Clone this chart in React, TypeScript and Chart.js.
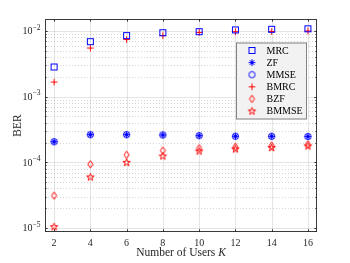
import React, { useEffect, useRef } from 'react';
import { Chart, registerables } from 'chart.js';

Chart.register(...registerables);

// ---------- data ----------
const users = [2, 4, 6, 8, 10, 12, 14, 16];
const mrc = [2.83e-3, 6.87e-3, 8.5e-3, 9.4e-3, 9.76e-3, 1.036e-2, 1.06e-2, 1.08e-2];
const zf = [2.06e-4, 2.64e-4, 2.64e-4, 2.61e-4, 2.55e-4, 2.5e-4, 2.49e-4, 2.47e-4];
const mmse = [2.06e-4, 2.64e-4, 2.64e-4, 2.61e-4, 2.55e-4, 2.5e-4, 2.49e-4, 2.47e-4];
const bmrc = [1.67e-3, 5.5e-3, 7.4e-3, 8.5e-3, 9.5e-3, 9.75e-3, 9.8e-3, 1.0e-2];
const bzf = [3.11e-5, 9.35e-5, 1.3e-4, 1.51e-4, 1.64e-4, 1.72e-4, 1.8e-4, 1.88e-4];
const bmmse = [1.05e-5, 6.0e-5, 1.0e-4, 1.25e-4, 1.49e-4, 1.6e-4, 1.68e-4, 1.78e-4];

const seriesNames = ['MRC', 'ZF', 'MMSE', 'BMRC', 'BZF', 'BMMSE'];
const xTicks = [2, 4, 6, 8, 10, 12, 14, 16];
const yDecadeExps = [-5, -4, -3, -2];
const minorMantissas = [2, 3, 4, 5, 6, 7, 8, 9];
const minorExps = [-6, -5, -4, -3, -2];
const xTitle = 'Number of Users ';
const xTitleItalic = 'K';
const yTitle = 'BER';

const X_MIN = 1.5;
const X_MAX = 16.5;
const Y_MIN = 8.7e-6;
const Y_MAX = 1.52e-2;

const BLUE = 'rgb(0,0,255)';
const RED = 'rgb(255,0,0)';
const FONT = '"Liberation Serif", "DejaVu Serif", serif';
const AXIS_COLOR = 'rgba(38,38,38,0.9)';

// ---------- markers ----------
function mk(w: number, h: number, draw: (g: CanvasRenderingContext2D) => void) {
  const c = document.createElement('canvas');
  c.width = w;
  c.height = h;
  const g = c.getContext('2d')!;
  g.lineWidth = 1;
  draw(g);
  return c;
}

function makeMarkers() {
  const square = mk(9, 9, (g) => {
    g.strokeStyle = BLUE;
    g.strokeRect(1.5, 1.5, 6, 6);
  });
  const asterisk = mk(9, 9, (g) => {
    g.strokeStyle = BLUE;
    const c = 4.5, r = 3.4, d = r * Math.SQRT1_2;
    g.beginPath();
    g.moveTo(c - r, c); g.lineTo(c + r, c);
    g.moveTo(c, c - r); g.lineTo(c, c + r);
    g.moveTo(c - d, c - d); g.lineTo(c + d, c + d);
    g.moveTo(c - d, c + d); g.lineTo(c + d, c - d);
    g.stroke();
  });
  const circle = mk(9, 9, (g) => {
    g.strokeStyle = BLUE;
    g.beginPath();
    g.arc(4.5, 4.5, 3.1, 0, Math.PI * 2);
    g.stroke();
  });
  const plus = mk(9, 9, (g) => {
    g.strokeStyle = RED;
    g.beginPath();
    g.moveTo(1.2, 4.5); g.lineTo(7.8, 4.5);
    g.moveTo(4.5, 1.2); g.lineTo(4.5, 7.8);
    g.stroke();
  });
  const diamond = mk(9, 11, (g) => {
    g.strokeStyle = RED;
    g.beginPath();
    g.moveTo(4.5, 1.8); g.lineTo(7, 5.5); g.lineTo(4.5, 9.2); g.lineTo(2, 5.5);
    g.closePath();
    g.stroke();
  });
  const star = mk(11, 11, (g) => {
    g.strokeStyle = RED;
    const cx = 5.5, cy = 5.8, R = 3.9, r = R * 0.382;
    g.beginPath();
    for (let i = 0; i < 10; i++) {
      const ang = -Math.PI / 2 + (i * Math.PI) / 5;
      const rr = i % 2 === 0 ? R : r;
      const px = cx + rr * Math.cos(ang);
      const py = cy + rr * Math.sin(ang);
      if (i === 0) g.moveTo(px, py); else g.lineTo(px, py);
    }
    g.closePath();
    g.stroke();
  });
  return [square, asterisk, circle, plus, diamond, star];
}

const px = (v: number) => Math.round(v) + 0.5;

const decorPlugin = {
  id: 'matlabDecor',
  beforeDatasetsDraw(chart: any) {
    const { ctx, chartArea: a, scales } = chart;
    const x = scales.x, y = scales.y;
    ctx.save();
    ctx.lineWidth = 1;
    // minor dotted y grid
    ctx.strokeStyle = 'rgba(0,0,0,0.16)';
    ctx.setLineDash([1, 2]);
    for (const e of minorExps) {
      for (const m of minorMantissas) {
        const v = m * Math.pow(10, e);
        if (v < Y_MIN || v > Y_MAX) continue;
        const py = px(y.getPixelForValue(v));
        ctx.beginPath();
        ctx.moveTo(a.left, py);
        ctx.lineTo(a.right, py);
        ctx.stroke();
      }
    }
    // major grid
    ctx.setLineDash([]);
    ctx.strokeStyle = 'rgba(0,0,0,0.1)';
    for (const t of xTicks) {
      const pxv = px(x.getPixelForValue(t));
      ctx.beginPath();
      ctx.moveTo(pxv, a.top);
      ctx.lineTo(pxv, a.bottom);
      ctx.stroke();
    }
    for (const e of yDecadeExps) {
      const py = px(y.getPixelForValue(Math.pow(10, e)));
      ctx.beginPath();
      ctx.moveTo(a.left, py);
      ctx.lineTo(a.right, py);
      ctx.stroke();
    }
    // box
    ctx.strokeStyle = AXIS_COLOR;
    ctx.strokeRect(a.left + 0.5, a.top + 0.5, a.right - a.left - 1, a.bottom - a.top - 1);
    // ticks
    const L = 2.7, Lm = 1.6;
    ctx.beginPath();
    for (const t of xTicks) {
      const pxv = px(x.getPixelForValue(t));
      ctx.moveTo(pxv, a.bottom);
      ctx.lineTo(pxv, a.bottom - L);
      ctx.moveTo(pxv, a.top);
      ctx.lineTo(pxv, a.top + L);
    }
    for (const e of yDecadeExps) {
      const py = px(y.getPixelForValue(Math.pow(10, e)));
      ctx.moveTo(a.left, py);
      ctx.lineTo(a.left + L, py);
      ctx.moveTo(a.right, py);
      ctx.lineTo(a.right - L, py);
    }
    for (const e of minorExps) {
      for (const m of minorMantissas) {
        const v = m * Math.pow(10, e);
        if (v < Y_MIN || v > Y_MAX) continue;
        const py = px(y.getPixelForValue(v));
        ctx.moveTo(a.left, py);
        ctx.lineTo(a.left + Lm, py);
        ctx.moveTo(a.right, py);
        ctx.lineTo(a.right - Lm, py);
      }
    }
    ctx.stroke();
    ctx.restore();
  },
  afterDraw(chart: any) {
    const { ctx, chartArea: a, scales } = chart;
    const x = scales.x, y = scales.y;
    const markers = chart.options.plugins.matlabDecor.markers;
    ctx.save();
    ctx.fillStyle = '#262626';
    // x tick labels
    ctx.font = `10px ${FONT}`;
    ctx.textAlign = 'center';
    ctx.textBaseline = 'alphabetic';
    for (const t of xTicks) {
      ctx.fillText(String(t), x.getPixelForValue(t), a.bottom + 13.6);
    }
    // y tick labels 10^e
    ctx.textAlign = 'left';
    for (const e of yDecadeExps) {
      const py = y.getPixelForValue(Math.pow(10, e));
      const sup = '\u2212' + Math.abs(e);
      ctx.font = `7.5px ${FONT}`;
      const ws = ctx.measureText(sup).width;
      ctx.font = `10px ${FONT}`;
      const wb = ctx.measureText('10').width;
      const right = a.left - 4.5;
      ctx.fillText('10', right - ws - wb, py + 3.4);
      ctx.font = `7.5px ${FONT}`;
      ctx.fillText(sup, right - ws, py - 1.4);
    }
    // x title
    ctx.font = `11.5px ${FONT}`;
    const w1 = ctx.measureText(xTitle).width;
    ctx.font = `italic 11.5px ${FONT}`;
    const w2 = ctx.measureText(xTitleItalic).width;
    const cx = (a.left + a.right) / 2;
    const sx = cx - (w1 + w2) / 2;
    ctx.font = `11.5px ${FONT}`;
    ctx.fillText(xTitle, sx, a.bottom + 24);
    ctx.font = `italic 11.5px ${FONT}`;
    ctx.fillText(xTitleItalic, sx + w1, a.bottom + 24);
    // y title
    ctx.save();
    ctx.translate(17.5, (a.top + a.bottom) / 2);
    ctx.rotate(-Math.PI / 2);
    ctx.font = `11.5px ${FONT}`;
    ctx.textAlign = 'center';
    ctx.textBaseline = 'middle';
    ctx.fillText(yTitle, 0, 0);
    ctx.restore();
    // legend
    const lx = a.right - 81, ly = a.top + 23.5, lw = 71, lh = 77;
    ctx.fillStyle = 'rgb(242,242,242)';
    ctx.fillRect(lx, ly, lw, lh);
    ctx.strokeStyle = 'rgba(38,38,38,0.55)';
    ctx.lineWidth = 1;
    ctx.strokeRect(lx + 0.5, ly + 0.5, lw - 1, lh - 1);
    ctx.fillStyle = '#000';
    ctx.font = `10px ${FONT}`;
    ctx.textAlign = 'left';
    ctx.textBaseline = 'middle';
    seriesNames.forEach((name, i) => {
      const ry = ly + 8 + i * 12.1;
      const m = markers[i];
      ctx.drawImage(m, lx + 16 - m.width / 2, ry - m.height / 2);
      ctx.fillText(name, lx + 30.5, ry + 0.5);
    });
    ctx.restore();
  },
};

export default function App() {
  const ref = useRef<HTMLCanvasElement | null>(null);
  useEffect(() => {
    document.body.style.margin = '0';
    const markers = makeMarkers();
    const series = [mrc, zf, mmse, bmrc, bzf, bmmse];
    const datasets = series.map((vals, i) => ({
      label: seriesNames[i],
      data: users.map((u, j) => ({ x: u, y: vals[j] })),
      showLine: false,
      pointStyle: markers[i],
      pointRadius: 4,
      pointHoverRadius: 4,
      clip: false as any,
    }));
    const chart = new Chart(ref.current!, {
      type: 'scatter',
      data: { datasets },
      options: {
        responsive: false,
        animation: false,
        devicePixelRatio: 1,
        events: [],
        layout: { padding: { left: 45, right: 33, top: 19, bottom: 31 } },
        plugins: {
          legend: { display: false },
          tooltip: { enabled: false },
          matlabDecor: { markers },
        } as any,
        scales: {
          x: { type: 'linear', min: X_MIN, max: X_MAX, display: false },
          y: { type: 'logarithmic', min: Y_MIN, max: Y_MAX, display: false },
        },
      },
      plugins: [decorPlugin],
    });
    return () => chart.destroy();
  }, []);
  return (
    <div style={{ width: 350, height: 263, background: '#fff' }}>
      <canvas ref={ref} width={350} height={263} style={{ display: 'block' }} />
    </div>
  );
}
